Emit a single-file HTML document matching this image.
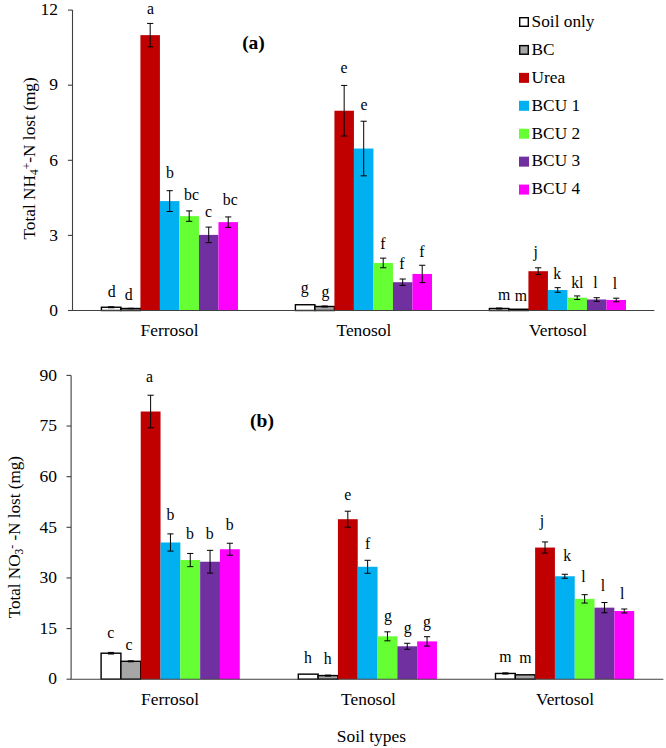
<!DOCTYPE html>
<html><head><meta charset="utf-8"><style>
html,body{margin:0;padding:0;background:#fff;}
svg{display:block;font-family:"Liberation Serif", serif;}
</style></head><body>
<svg width="666" height="748" viewBox="0 0 666 748" fill="#000">
<rect width="666" height="748" fill="#fff"/>
<rect x="101.40" y="307.25" width="19.51" height="3.25" fill="#FFFFFF" stroke="#000" stroke-width="1.4"/>
<rect x="120.91" y="308.50" width="19.51" height="2.00" fill="#A6A6A6" stroke="#000" stroke-width="1.4"/>
<rect x="140.42" y="35.13" width="19.51" height="275.37" fill="#C00000"/>
<rect x="159.93" y="201.10" width="19.51" height="109.40" fill="#00B0F0"/>
<rect x="179.44" y="216.12" width="19.51" height="94.38" fill="#66FF33"/>
<rect x="198.95" y="234.90" width="19.51" height="75.60" fill="#7030A0"/>
<rect x="218.46" y="222.13" width="19.51" height="88.37" fill="#FF00FF"/>
<rect x="295.40" y="304.74" width="19.51" height="5.76" fill="#FFFFFF" stroke="#000" stroke-width="1.4"/>
<rect x="314.91" y="306.49" width="19.51" height="4.01" fill="#A6A6A6" stroke="#000" stroke-width="1.4"/>
<rect x="334.42" y="110.73" width="19.51" height="199.77" fill="#C00000"/>
<rect x="353.93" y="148.53" width="19.51" height="161.97" fill="#00B0F0"/>
<rect x="373.44" y="262.94" width="19.51" height="47.56" fill="#66FF33"/>
<rect x="392.95" y="282.21" width="19.51" height="28.29" fill="#7030A0"/>
<rect x="412.46" y="273.95" width="19.51" height="36.55" fill="#FF00FF"/>
<rect x="489.40" y="308.50" width="19.51" height="2.00" fill="#FFFFFF" stroke="#000" stroke-width="1.4"/>
<rect x="508.91" y="309.25" width="19.51" height="1.25" fill="#A6A6A6" stroke="#000" stroke-width="1.4"/>
<rect x="528.42" y="271.20" width="19.51" height="39.30" fill="#C00000"/>
<rect x="547.93" y="289.97" width="19.51" height="20.53" fill="#00B0F0"/>
<rect x="567.44" y="297.73" width="19.51" height="12.77" fill="#66FF33"/>
<rect x="586.95" y="299.49" width="19.51" height="11.01" fill="#7030A0"/>
<rect x="606.46" y="299.99" width="19.51" height="10.51" fill="#FF00FF"/>
<path d="M111.16 306.75V307.75M108.06 306.75H114.25M108.06 307.75H114.25" stroke="#000" stroke-width="1" fill="none"/>
<path d="M130.67 308.25V308.75M127.57 308.25H133.77M127.57 308.75H133.77" stroke="#000" stroke-width="1" fill="none"/>
<path d="M150.18 23.43V46.83M147.08 23.43H153.28M147.08 46.83H153.28" stroke="#000" stroke-width="1" fill="none"/>
<path d="M169.69 190.70V211.50M166.59 190.70H172.78M166.59 211.50H172.78" stroke="#000" stroke-width="1" fill="none"/>
<path d="M189.19 210.92V221.32M186.09 210.92H192.29M186.09 221.32H192.29" stroke="#000" stroke-width="1" fill="none"/>
<path d="M208.71 227.10V242.70M205.61 227.10H211.81M205.61 242.70H211.81" stroke="#000" stroke-width="1" fill="none"/>
<path d="M228.22 216.93V227.33M225.12 216.93H231.32M225.12 227.33H231.32" stroke="#000" stroke-width="1" fill="none"/>
<path d="M324.66 305.99V307.00M321.56 305.99H327.76M321.56 307.00H327.76" stroke="#000" stroke-width="1" fill="none"/>
<path d="M344.17 85.43V136.03M341.07 85.43H347.27M341.07 136.03H347.27" stroke="#000" stroke-width="1" fill="none"/>
<path d="M363.69 121.23V175.83M360.58 121.23H366.79M360.58 175.83H366.79" stroke="#000" stroke-width="1" fill="none"/>
<path d="M383.19 258.14V267.74M380.09 258.14H386.30M380.09 267.74H386.30" stroke="#000" stroke-width="1" fill="none"/>
<path d="M402.70 279.01V285.41M399.60 279.01H405.81M399.60 285.41H405.81" stroke="#000" stroke-width="1" fill="none"/>
<path d="M422.21 265.25V282.65M419.11 265.25H425.31M419.11 282.65H425.31" stroke="#000" stroke-width="1" fill="none"/>
<path d="M499.15 308.00V309.00M496.05 308.00H502.25M496.05 309.00H502.25" stroke="#000" stroke-width="1" fill="none"/>
<path d="M538.17 267.80V274.60M535.07 267.80H541.27M535.07 274.60H541.27" stroke="#000" stroke-width="1" fill="none"/>
<path d="M557.68 287.67V292.27M554.58 287.67H560.78M554.58 292.27H560.78" stroke="#000" stroke-width="1" fill="none"/>
<path d="M577.19 295.93V299.53M574.09 295.93H580.29M574.09 299.53H580.29" stroke="#000" stroke-width="1" fill="none"/>
<path d="M596.70 297.69V301.29M593.60 297.69H599.80M593.60 301.29H599.80" stroke="#000" stroke-width="1" fill="none"/>
<path d="M616.22 298.19V301.79M613.12 298.19H619.32M613.12 301.79H619.32" stroke="#000" stroke-width="1" fill="none"/>
<path d="M72.50 10.10V310.50H654.40" stroke="#404040" stroke-width="1.1" fill="none"/>
<path d="M67.90 310.50H72.50" stroke="#404040" stroke-width="1.1"/>
<text x="58" y="315.70" text-anchor="end" font-size="17.5">0</text>
<path d="M67.90 235.40H72.50" stroke="#404040" stroke-width="1.1"/>
<text x="58" y="240.60" text-anchor="end" font-size="17.5">3</text>
<path d="M67.90 160.30H72.50" stroke="#404040" stroke-width="1.1"/>
<text x="58" y="165.50" text-anchor="end" font-size="17.5">6</text>
<path d="M67.90 85.20H72.50" stroke="#404040" stroke-width="1.1"/>
<text x="58" y="90.40" text-anchor="end" font-size="17.5">9</text>
<path d="M67.90 10.10H72.50" stroke="#404040" stroke-width="1.1"/>
<text x="58" y="15.30" text-anchor="end" font-size="17.5">12</text>
<text x="111.7" y="297.1" text-anchor="middle" font-size="15.8">d</text>
<text x="128.8" y="299.8" text-anchor="middle" font-size="15.8">d</text>
<text x="150.4" y="13.5" text-anchor="middle" font-size="15.8">a</text>
<text x="170.0" y="178.4" text-anchor="middle" font-size="15.8">b</text>
<text x="191.5" y="200.0" text-anchor="middle" font-size="15.8">bc</text>
<text x="208.4" y="217.4" text-anchor="middle" font-size="15.8">c</text>
<text x="230.3" y="205.2" text-anchor="middle" font-size="15.8">bc</text>
<text x="304.7" y="293.0" text-anchor="middle" font-size="15.8">g</text>
<text x="325.5" y="297.3" text-anchor="middle" font-size="15.8">g</text>
<text x="344.0" y="73.3" text-anchor="middle" font-size="15.8">e</text>
<text x="364.0" y="110.0" text-anchor="middle" font-size="15.8">e</text>
<text x="383.0" y="249.2" text-anchor="middle" font-size="15.8">f</text>
<text x="402.0" y="268.8" text-anchor="middle" font-size="15.8">f</text>
<text x="421.9" y="257.0" text-anchor="middle" font-size="15.8">f</text>
<text x="504.2" y="300.0" text-anchor="middle" font-size="15.8">m</text>
<text x="521.0" y="300.6" text-anchor="middle" font-size="15.8">m</text>
<text x="535.8" y="257.2" text-anchor="middle" font-size="15.8">j</text>
<text x="557.3" y="278.7" text-anchor="middle" font-size="15.8">k</text>
<text x="577.3" y="288.3" text-anchor="middle" font-size="15.8">kl</text>
<text x="595.4" y="287.9" text-anchor="middle" font-size="15.8">l</text>
<text x="615.0" y="288.9" text-anchor="middle" font-size="15.8">l</text>
<rect x="101.10" y="653.21" width="19.81" height="25.99" fill="#FFFFFF" stroke="#000" stroke-width="1.4"/>
<rect x="120.91" y="661.31" width="19.81" height="17.89" fill="#A6A6A6" stroke="#000" stroke-width="1.4"/>
<rect x="140.72" y="411.52" width="19.81" height="267.68" fill="#C00000"/>
<rect x="160.53" y="542.49" width="19.81" height="136.71" fill="#00B0F0"/>
<rect x="180.34" y="560.04" width="19.81" height="119.16" fill="#66FF33"/>
<rect x="200.15" y="561.73" width="19.81" height="117.47" fill="#7030A0"/>
<rect x="219.96" y="549.24" width="19.81" height="129.96" fill="#FF00FF"/>
<rect x="298.30" y="674.14" width="19.81" height="5.06" fill="#FFFFFF" stroke="#000" stroke-width="1.4"/>
<rect x="318.11" y="675.59" width="19.81" height="3.61" fill="#A6A6A6" stroke="#000" stroke-width="1.4"/>
<rect x="337.92" y="519.20" width="19.81" height="160.00" fill="#C00000"/>
<rect x="357.73" y="566.79" width="19.81" height="112.41" fill="#00B0F0"/>
<rect x="377.54" y="636.33" width="19.81" height="42.87" fill="#66FF33"/>
<rect x="397.35" y="646.29" width="19.81" height="32.91" fill="#7030A0"/>
<rect x="417.16" y="641.39" width="19.81" height="37.81" fill="#FF00FF"/>
<rect x="495.50" y="673.46" width="19.81" height="5.74" fill="#FFFFFF" stroke="#000" stroke-width="1.4"/>
<rect x="515.31" y="674.81" width="19.81" height="4.39" fill="#A6A6A6" stroke="#000" stroke-width="1.4"/>
<rect x="535.12" y="547.55" width="19.81" height="131.65" fill="#C00000"/>
<rect x="554.93" y="576.25" width="19.81" height="102.95" fill="#00B0F0"/>
<rect x="574.74" y="598.86" width="19.81" height="80.34" fill="#66FF33"/>
<rect x="594.55" y="607.64" width="19.81" height="71.56" fill="#7030A0"/>
<rect x="614.36" y="611.01" width="19.81" height="68.19" fill="#FF00FF"/>
<path d="M111.00 652.41V654.01M107.91 652.41H114.10M107.91 654.01H114.10" stroke="#000" stroke-width="1" fill="none"/>
<path d="M130.81 660.81V661.81M127.72 660.81H133.91M127.72 661.81H133.91" stroke="#000" stroke-width="1" fill="none"/>
<path d="M150.62 395.22V427.82M147.53 395.22H153.72M147.53 427.82H153.72" stroke="#000" stroke-width="1" fill="none"/>
<path d="M170.44 533.89V551.09M167.34 533.89H173.53M167.34 551.09H173.53" stroke="#000" stroke-width="1" fill="none"/>
<path d="M190.25 553.44V566.64M187.15 553.44H193.34M187.15 566.64H193.34" stroke="#000" stroke-width="1" fill="none"/>
<path d="M210.06 550.33V573.13M206.96 550.33H213.16M206.96 573.13H213.16" stroke="#000" stroke-width="1" fill="none"/>
<path d="M229.86 543.24V555.24M226.76 543.24H232.96M226.76 555.24H232.96" stroke="#000" stroke-width="1" fill="none"/>
<path d="M328.01 675.09V676.09M324.91 675.09H331.11M324.91 676.09H331.11" stroke="#000" stroke-width="1" fill="none"/>
<path d="M347.82 511.20V527.20M344.72 511.20H350.92M344.72 527.20H350.92" stroke="#000" stroke-width="1" fill="none"/>
<path d="M367.63 560.29V573.29M364.53 560.29H370.73M364.53 573.29H370.73" stroke="#000" stroke-width="1" fill="none"/>
<path d="M387.44 631.83V640.83M384.34 631.83H390.54M384.34 640.83H390.54" stroke="#000" stroke-width="1" fill="none"/>
<path d="M407.25 643.29V649.29M404.15 643.29H410.35M404.15 649.29H410.35" stroke="#000" stroke-width="1" fill="none"/>
<path d="M427.06 636.69V646.09M423.96 636.69H430.16M423.96 646.09H430.16" stroke="#000" stroke-width="1" fill="none"/>
<path d="M505.40 672.86V674.06M502.30 672.86H508.50M502.30 674.06H508.50" stroke="#000" stroke-width="1" fill="none"/>
<path d="M545.02 541.95V553.15M541.92 541.95H548.12M541.92 553.15H548.12" stroke="#000" stroke-width="1" fill="none"/>
<path d="M564.84 574.25V578.25M561.74 574.25H567.94M561.74 578.25H567.94" stroke="#000" stroke-width="1" fill="none"/>
<path d="M584.64 594.66V603.06M581.54 594.66H587.75M581.54 603.06H587.75" stroke="#000" stroke-width="1" fill="none"/>
<path d="M604.46 602.54V612.74M601.36 602.54H607.56M601.36 612.74H607.56" stroke="#000" stroke-width="1" fill="none"/>
<path d="M624.26 609.01V613.01M621.16 609.01H627.37M621.16 613.01H627.37" stroke="#000" stroke-width="1" fill="none"/>
<path d="M71.10 375.40V679.20H663.40" stroke="#404040" stroke-width="1.1" fill="none"/>
<path d="M66.50 679.20H71.10" stroke="#404040" stroke-width="1.1"/>
<text x="57" y="684.40" text-anchor="end" font-size="17.5">0</text>
<path d="M66.50 628.57H71.10" stroke="#404040" stroke-width="1.1"/>
<text x="57" y="633.77" text-anchor="end" font-size="17.5">15</text>
<path d="M66.50 577.93H71.10" stroke="#404040" stroke-width="1.1"/>
<text x="57" y="583.13" text-anchor="end" font-size="17.5">30</text>
<path d="M66.50 527.30H71.10" stroke="#404040" stroke-width="1.1"/>
<text x="57" y="532.50" text-anchor="end" font-size="17.5">45</text>
<path d="M66.50 476.67H71.10" stroke="#404040" stroke-width="1.1"/>
<text x="57" y="481.87" text-anchor="end" font-size="17.5">60</text>
<path d="M66.50 426.03H71.10" stroke="#404040" stroke-width="1.1"/>
<text x="57" y="431.23" text-anchor="end" font-size="17.5">75</text>
<path d="M66.50 375.40H71.10" stroke="#404040" stroke-width="1.1"/>
<text x="57" y="380.60" text-anchor="end" font-size="17.5">90</text>
<text x="110.7" y="637.8" text-anchor="middle" font-size="15.8">c</text>
<text x="129.1" y="649.6" text-anchor="middle" font-size="15.8">c</text>
<text x="149.4" y="382.0" text-anchor="middle" font-size="15.8">a</text>
<text x="170.5" y="520.0" text-anchor="middle" font-size="15.8">b</text>
<text x="189.9" y="539.2" text-anchor="middle" font-size="15.8">b</text>
<text x="209.7" y="539.0" text-anchor="middle" font-size="15.8">b</text>
<text x="229.6" y="529.5" text-anchor="middle" font-size="15.8">b</text>
<text x="308.0" y="662.5" text-anchor="middle" font-size="15.8">h</text>
<text x="327.8" y="663.6" text-anchor="middle" font-size="15.8">h</text>
<text x="347.7" y="500.0" text-anchor="middle" font-size="15.8">e</text>
<text x="367.7" y="549.1" text-anchor="middle" font-size="15.8">f</text>
<text x="388.0" y="621.0" text-anchor="middle" font-size="15.8">g</text>
<text x="407.6" y="632.5" text-anchor="middle" font-size="15.8">g</text>
<text x="427.0" y="627.0" text-anchor="middle" font-size="15.8">g</text>
<text x="505.5" y="661.6" text-anchor="middle" font-size="15.8">m</text>
<text x="525.3" y="663.2" text-anchor="middle" font-size="15.8">m</text>
<text x="542.0" y="526.0" text-anchor="middle" font-size="15.8">j</text>
<text x="567.2" y="561.4" text-anchor="middle" font-size="15.8">k</text>
<text x="583.4" y="581.7" text-anchor="middle" font-size="15.8">l</text>
<text x="602.9" y="591.4" text-anchor="middle" font-size="15.8">l</text>
<text x="622.3" y="599.2" text-anchor="middle" font-size="15.8">l</text>
<rect x="519.7" y="17.70" width="8.6" height="8.6" fill="#FFFFFF" stroke="#000" stroke-width="1.4"/>
<text x="531.6" y="26.80" font-size="17.3">Soil only</text>
<rect x="519.7" y="45.63" width="8.6" height="8.6" fill="#A6A6A6" stroke="#000" stroke-width="1.4"/>
<text x="531.6" y="54.73" font-size="17.3">BC</text>
<rect x="519" y="72.86" width="10" height="10" fill="#C00000"/>
<text x="531.6" y="82.66" font-size="17.3">Urea</text>
<rect x="519" y="100.79" width="10" height="10" fill="#00B0F0"/>
<text x="531.6" y="110.59" font-size="17.3">BCU 1</text>
<rect x="519" y="128.72" width="10" height="10" fill="#66FF33"/>
<text x="531.6" y="138.52" font-size="17.3">BCU 2</text>
<rect x="519" y="156.65" width="10" height="10" fill="#7030A0"/>
<text x="531.6" y="166.45" font-size="17.3">BCU 3</text>
<rect x="519" y="184.58" width="10" height="10" fill="#FF00FF"/>
<text x="531.6" y="194.38" font-size="17.3">BCU 4</text>
<text x="253.5" y="48.9" text-anchor="middle" font-size="19.5" font-weight="bold">(a)</text>
<text x="262" y="426.5" text-anchor="middle" font-size="19.5" font-weight="bold">(b)</text>
<text x="169.6" y="335.7" text-anchor="middle" font-size="17.4">Ferrosol</text>
<text x="363.9" y="335.7" text-anchor="middle" font-size="17.4">Tenosol</text>
<text x="558.1" y="335.7" text-anchor="middle" font-size="17.4">Vertosol</text>
<text x="170" y="704.8" text-anchor="middle" font-size="17.4">Ferrosol</text>
<text x="368.5" y="704.8" text-anchor="middle" font-size="17.4">Tenosol</text>
<text x="565" y="704.8" text-anchor="middle" font-size="17.4">Vertosol</text>
<text x="371.4" y="742.1" text-anchor="middle" font-size="17.4">Soil types</text>
<text transform="translate(34.9 239.5) rotate(-90)" font-size="17.3">Total NH<tspan font-size="11.5" dy="3.5">4</tspan><tspan font-size="11.5" dy="-7" dx="0">+</tspan><tspan dy="3.5">-N lost (mg)</tspan></text>
<text transform="translate(19.9 618.3) rotate(-90)" font-size="17.1">Total NO<tspan font-size="11.5" dy="3.5">3</tspan><tspan font-size="11.5" dy="-8" dx="0">-</tspan><tspan dy="4.5"> -N lost (mg)</tspan></text>
</svg>
</body></html>
